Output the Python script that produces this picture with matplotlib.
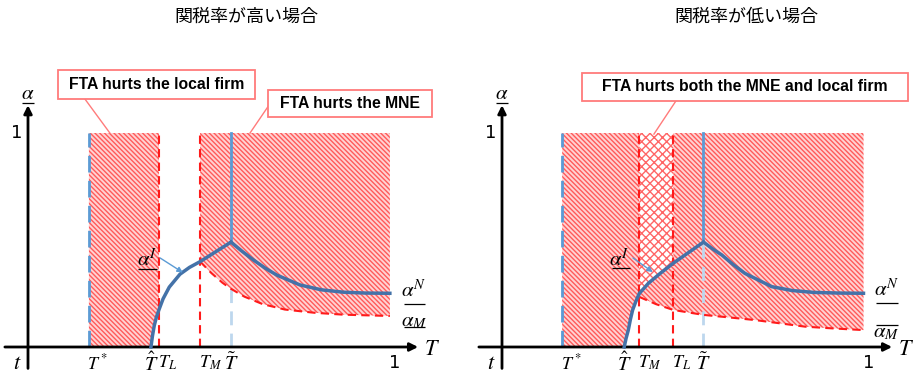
import matplotlib
matplotlib.use("Agg")
import matplotlib.pyplot as plt
from matplotlib.patches import Rectangle

plt.rcParams['mathtext.fontset'] = 'stix'
plt.rcParams['hatch.linewidth'] = 1.0

# 関税率が高い場合 (left panel)
hi_ticks = [0.166, 0.335, 0.357, 0.469, 0.553, 1.0]
hi_tick_labels = [r'$T^*$', r'$\hat{T}$', r'$T_L$', r'$T_M$', r'$\tilde{T}$', '1']
hi_aI_T = [0.335, 0.339, 0.344, 0.350, 0.357, 0.368, 0.385, 0.414, 0.440, 0.469, 0.553]
hi_aI = [0.0, 0.05, 0.10, 0.14, 0.175, 0.225, 0.28, 0.34, 0.372, 0.399, 0.49]
hi_aN_T = [0.553, 0.585, 0.614, 0.645, 0.678, 0.741, 0.80, 0.86, 0.92, 0.986]
hi_aN = [0.49, 0.445, 0.407, 0.37, 0.336, 0.29, 0.267, 0.256, 0.252, 0.251]
hi_aM_T = [0.469, 0.50, 0.53, 0.553, 0.59, 0.64, 0.70, 0.78, 0.86, 0.986]
hi_aM = [0.399, 0.345, 0.30, 0.272, 0.235, 0.20, 0.175, 0.16, 0.151, 0.145]

# 関税率が低い場合 (right panel)
lo_ticks = [0.164, 0.333, 0.374, 0.467, 0.549, 1.0]
lo_tick_labels = [r'$T^*$', r'$\hat{T}$', r'$T_M$', r'$T_L$', r'$\tilde{T}$', '1']
lo_aI_T = [0.333, 0.338, 0.344, 0.350, 0.356, 0.364, 0.374, 0.399, 0.431, 0.467, 0.549]
lo_aI = [0.0, 0.04, 0.078, 0.13, 0.173, 0.21, 0.25, 0.298, 0.344, 0.392, 0.49]
lo_aN_T = [0.549, 0.575, 0.599, 0.63, 0.662, 0.735, 0.79, 0.85, 0.92, 0.985]
lo_aN = [0.49, 0.457, 0.43, 0.385, 0.344, 0.282, 0.264, 0.255, 0.252, 0.251]
lo_aM_T = [0.374, 0.42, 0.467, 0.549, 0.62, 0.689, 0.76, 0.826, 0.90, 0.985]
lo_aM = [0.234, 0.20, 0.173, 0.15, 0.138, 0.126, 0.11, 0.095, 0.087, 0.079]

DARK_BLUE = '#4472a8'
LIGHT_BLUE = '#5b9bd5'
PALE_BLUE = '#bdd7ee'
RED = '#ff1a1a'
HATCH_FC = '#ffd2d2'
HATCH_EC = '#ff5a5a'
BOX_EC = '#ff7b7b'
SINGLE = '\\' * 7


def underlined(ax, x, y, s, x0, x1, yl, size=15):
    ax.text(x, y, s, ha='center', va='center', fontsize=size)
    ax.plot([x0, x1], [yl, yl], color='black', lw=0.9, solid_capstyle='butt')


def axes_frame(ax):
    ax.annotate('', xy=(1.063, 0), xytext=(-0.063, 0),
                arrowprops=dict(arrowstyle='-|>', lw=2, color='black', mutation_scale=12,
                                shrinkA=0, shrinkB=0))
    ax.annotate('', xy=(0, 1.13), xytext=(0, -0.1),
                arrowprops=dict(arrowstyle='-|>', lw=2, color='black', mutation_scale=12,
                                shrinkA=0, shrinkB=0))
    underlined(ax, 0.0, 1.185, r'$\alpha$', -0.016, 0.016, 1.14)
    ax.text(-0.03, 1.0, '1', ha='center', va='center', fontsize=13, family='DejaVu Sans')
    ax.text(-0.03, -0.075, r'$t$', ha='center', va='center', fontsize=16)
    ax.text(1.10, -0.01, r'$T$', ha='center', va='center', fontsize=16)


def tick_labels(ax, ticks, labels):
    for t, lab in zip(ticks, labels):
        if lab == '1':
            ax.text(t, -0.075, lab, ha='center', va='center', fontsize=13, family='DejaVu Sans')
        elif lab in (r'$\hat{T}$', r'$\tilde{T}$'):
            ax.text(t, -0.075, lab, ha='center', va='center', fontsize=14.5)
        else:
            ax.text(t - 0.004, -0.075, lab, ha='left', va='center', fontsize=13)


def callout(ax, x0, x1, y0, y1, s, line):
    ax.plot(line[0], line[1], color=BOX_EC, lw=1, zorder=5)
    ax.add_patch(Rectangle((x0, y0), x1 - x0, y1 - y0, fc='white', ec=BOX_EC, lw=1.3,
                           zorder=6, clip_on=False))
    ax.text((x0 + x1) / 2, (y0 + y1) / 2, s, ha='center', va='center', fontsize=11.3,
            fontweight='bold', family=['Liberation Sans', 'DejaVu Sans'], zorder=7)


fig = plt.figure(figsize=(9.15, 3.78), dpi=100)
ax_l = fig.add_axes([0, 0, 0.5, 1])
ax_r = fig.add_axes([0.5, 0, 0.5, 1])
ax_l.set_xlim(-28 / 367, 429.5 / 367)
ax_r.set_xlim((457.5 - 502) / 367, (915 - 502) / 367)
for ax in (ax_l, ax_r):
    ax.set_ylim(-31 / 214, 347 / 214)
    ax.axis('off')

# ---------------- left panel ----------------
ax = ax_l
T_star, T_hat, T_L, T_M, T_til = hi_ticks[:5]
n_L = hi_aI_T.index(T_L) + 1
poly_x = [T_star, T_hat] + hi_aI_T[1:n_L] + [T_L, T_star]
poly_y = [0, 0] + hi_aI[1:n_L] + [1, 1]
ax.fill(poly_x, poly_y, fc=HATCH_FC, ec=HATCH_EC, hatch=SINGLE, lw=0, zorder=1)
poly_x = hi_aM_T + [hi_aM_T[-1], T_M]
poly_y = hi_aM + [1, 1]
ax.fill(poly_x, poly_y, fc=HATCH_FC, ec=HATCH_EC, hatch=SINGLE, lw=0, zorder=1)

ax.plot([T_star, T_star], [0, 1], color=LIGHT_BLUE, lw=2, dashes=(6, 3), zorder=3)
ax.plot([T_L, T_L], [0, 1], color=RED, lw=1.5, dashes=(4, 2.5), zorder=3)
ax.plot([T_M, T_M], [0, 1], color=RED, lw=1.5, dashes=(4, 2.5), zorder=3)
ax.plot([T_til, T_til], [0, hi_aM[3]], color=PALE_BLUE, lw=2, dashes=(5, 3), zorder=3)
ax.plot(hi_aM_T, hi_aM, color=RED, lw=1.5, dashes=(4, 2.5), zorder=3)
ax.plot([T_til, T_til], [hi_aI[-1], 1], color=LIGHT_BLUE, lw=2, zorder=4)
ax.plot(hi_aI_T, hi_aI, color=DARK_BLUE, lw=2.5, zorder=4)
ax.plot(hi_aN_T, hi_aN, color=DARK_BLUE, lw=2.5, zorder=4)

axes_frame(ax)
tick_labels(ax, hi_ticks, hi_tick_labels)
underlined(ax, 0.325, 0.41, r'$\alpha^I$', 0.30, 0.351, 0.364)
ax.annotate('', xy=(0.422, 0.348), xytext=(0.36, 0.416),
            arrowprops=dict(arrowstyle='-|>', color=LIGHT_BLUE, lw=1, mutation_scale=8,
                            shrinkA=0, shrinkB=0), zorder=5)
underlined(ax, 1.052, 0.265, r'$\alpha^N$', 1.025, 1.082, 0.20)
underlined(ax, 1.052, 0.12, r'$\alpha_M$', 1.025, 1.082, 0.093)

callout(ax, 0.082, 0.619, 1.159, 1.294, 'FTA hurts the local firm', ([0.155, 0.223], [1.159, 1.0]))
callout(ax, 0.654, 1.101, 1.075, 1.201, 'FTA hurts the MNE', ([0.657, 0.605], [1.131, 1.0]))

# ---------------- right panel ----------------
ax = ax_r
T_star, T_hat, T_M, T_L, T_til = lo_ticks[:5]
n_M = lo_aI_T.index(T_M) + 1
n_L = lo_aI_T.index(T_L) + 1
poly_x = [T_star, T_hat] + lo_aI_T[1:n_M] + lo_aM_T + [lo_aM_T[-1], T_star]
poly_y = [0, 0] + lo_aI[1:n_M] + lo_aM + [1, 1]
ax.fill(poly_x, poly_y, fc=HATCH_FC, ec=HATCH_EC, hatch=SINGLE, lw=0, zorder=1)
cross_x = lo_aI_T[n_M - 1:n_L] + [T_L, T_M]
cross_y = lo_aI[n_M - 1:n_L] + [1, 1]
ax.fill(cross_x, cross_y, fc='white', ec='#ff6666', hatch='xxxx', lw=0, zorder=2)

ax.plot([T_star, T_star], [0, 1], color=LIGHT_BLUE, lw=2, dashes=(6, 3), zorder=3)
ax.plot([T_M, T_M], [0, 1], color=RED, lw=1.5, dashes=(4, 2.5), zorder=3)
ax.plot([T_L, T_L], [0, 1], color=RED, lw=1.5, dashes=(4, 2.5), zorder=3)
ax.plot([T_til, T_til], [0, lo_aI[-1]], color=PALE_BLUE, lw=2, dashes=(5, 3), zorder=3)
ax.plot(lo_aM_T, lo_aM, color=RED, lw=1.5, dashes=(4, 2.5), zorder=3)
ax.plot([T_til, T_til], [lo_aI[-1], 1], color=LIGHT_BLUE, lw=2, zorder=4)
ax.plot(lo_aI_T, lo_aI, color=DARK_BLUE, lw=2.5, zorder=4)
ax.plot(lo_aN_T, lo_aN, color=DARK_BLUE, lw=2.5, zorder=4)

axes_frame(ax)
tick_labels(ax, lo_ticks, lo_tick_labels)
underlined(ax, 0.32, 0.41, r'$\alpha^I$', 0.30, 0.35, 0.369)
ax.annotate('', xy=(0.411, 0.35), xytext=(0.357, 0.416),
            arrowprops=dict(arrowstyle='-|>', color=LIGHT_BLUE, lw=1, mutation_scale=8,
                            shrinkA=0, shrinkB=0), zorder=5)
underlined(ax, 1.049, 0.27, r'$\alpha^N$', 1.019, 1.079, 0.205)
underlined(ax, 1.046, 0.07, r'$\alpha_M$', 1.019, 1.079, 0.103)

callout(ax, 0.218, 1.106, 1.15, 1.28, 'FTA hurts both the MNE and local firm',
        ([0.474, 0.414], [1.15, 0.995]))

fig.text(0.269, 0.955, '関税率が高い場合', ha='center', va='center', fontsize=13,
         family=['Noto Sans CJK JP', 'DejaVu Sans'])
fig.text(0.816, 0.955, '関税率が低い場合', ha='center', va='center', fontsize=13,
         family=['Noto Sans CJK JP', 'DejaVu Sans'])

fig.savefig('out.png', dpi=100)
